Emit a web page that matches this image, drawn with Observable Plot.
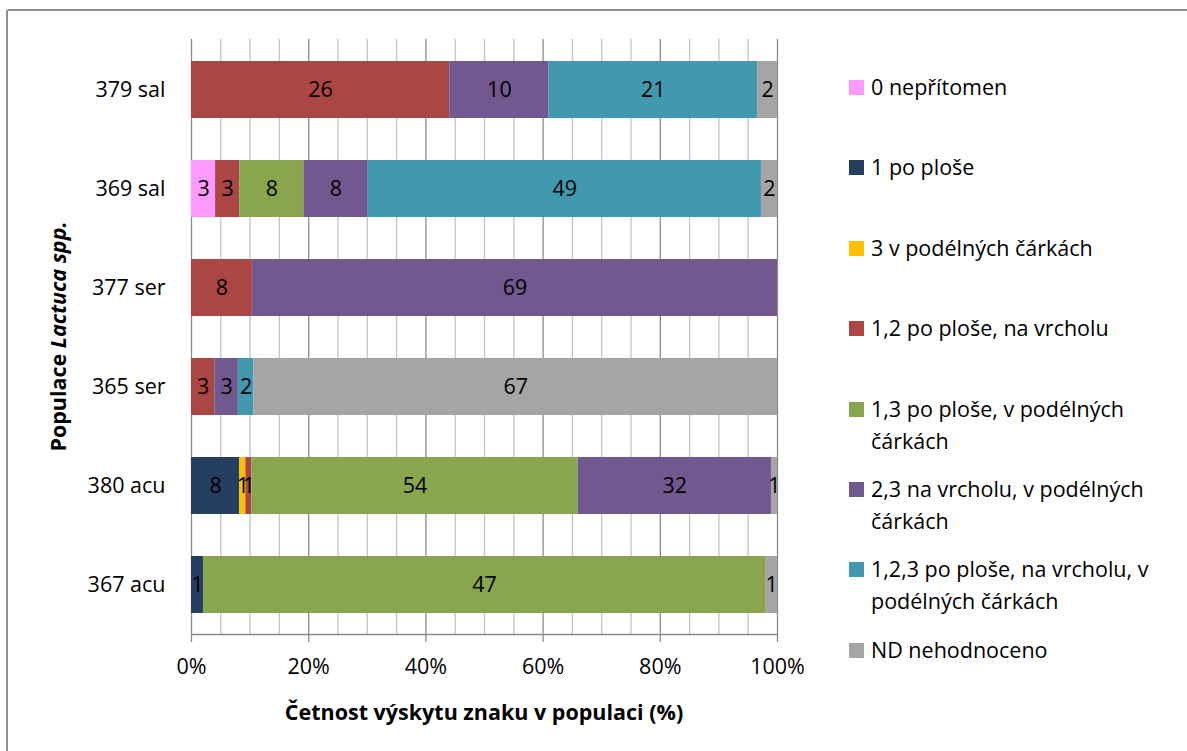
<!DOCTYPE html>
<html>
<head>
<meta charset="utf-8">
<script src="https://cdn.jsdelivr.net/npm/d3@7"></script>
<script src="https://cdn.jsdelivr.net/npm/@observablehq/plot@0.6"></script>
<style>
  html, body { margin: 0; padding: 0; background: #fff; }
  #wrap { position: relative; width: 1187px; height: 751px; overflow: hidden; font-family: "Open Sans", sans-serif; }
  #border { position: absolute; left: 6px; top: 9px; width: 1250px; height: 800px; border: 2px solid #8f8f8f; border-radius: 3px; }
  #chart { position: absolute; left: 0; top: 0; }
  #legend { position: absolute; left: 0; top: 0; }
  .lg { position: absolute; left: 849px; display: flex; align-items: flex-start; font-size: 21.5px; line-height: 32px; color: #000; white-space: pre; }
  .sw { width: 15px; height: 15px; margin-top: 9px; margin-right: 7px; flex: none; }
</style>
</head>
<body>
<div id="wrap">
  <div id="border"></div>
  <div id="chart"></div>
  <div id="legend"></div>
</div>
<script>
// ---- data ----
const populations = ["379 sal", "369 sal", "377 ser", "365 ser", "380 acu", "367 acu"];
const seriesNames = [
  "0 nepřítomen",
  "1 po ploše",
  "3 v podélných čárkách",
  "1,2 po ploše, na vrcholu",
  "1,3 po ploše, v podélných čárkách",
  "2,3 na vrcholu, v podélných čárkách",
  "1,2,3 po ploše, na vrcholu, v podélných čárkách",
  "ND nehodnoceno"
];
const legendLabels = [
  "0 nepřítomen",
  "1 po ploše",
  "3 v podélných čárkách",
  "1,2 po ploše, na vrcholu",
  "1,3 po ploše, v podélných\nčárkách",
  "2,3 na vrcholu, v podélných\nčárkách",
  "1,2,3 po ploše, na vrcholu, v\npodélných čárkách",
  "ND nehodnoceno"
];
const seriesColors = ["#FF99FF", "#243F60", "#FFC000", "#AA4643", "#89A54E", "#71588F", "#4198AF", "#A5A5A5"];

// values per series, in the order of populations
const v0 = [0, 3, 0, 0, 0, 0];
const v1 = [0, 0, 0, 0, 8, 1];
const v3 = [0, 0, 0, 0, 1, 0];
const v12 = [26, 3, 8, 3, 1, 0];
const v13 = [0, 8, 0, 0, 54, 47];
const v23 = [10, 8, 69, 3, 32, 0];
const v123 = [21, 49, 0, 2, 0, 0];
const vND = [2, 2, 0, 67, 1, 1];
const seriesValues = [v0, v1, v3, v12, v13, v23, v123, vND];

const xTicks = [0, 0.2, 0.4, 0.6, 0.8, 1];
const xTickLabels = ["0%", "20%", "40%", "60%", "80%", "100%"];
const minorGrid = [0.05, 0.1, 0.15, 0.25, 0.3, 0.35, 0.45, 0.5, 0.55, 0.65, 0.7, 0.75, 0.85, 0.9, 0.95];

const xTitle = "Četnost výskytu znaku v populaci (%)";
const yTitleA = "Populace ";
const yTitleB = "Lactuca spp.";

// ---- long table ----
const rows = [];
seriesNames.forEach((s, si) => {
  populations.forEach((p, pi) => {
    const v = seriesValues[si][pi];
    if (v > 0) rows.push({population: p, series: s, value: v});
  });
});

const W = 1187, H = 751;
const FS = 21.5;
const stackOpts = {x: "value", y: "population", z: "series", order: seriesNames, offset: "normalize"};

const plot = Plot.plot({
  width: W,
  height: H,
  marginLeft: 191,
  marginRight: 410,
  marginTop: 39,
  marginBottom: 117,
  style: {fontFamily: "'Open Sans', sans-serif", fontSize: FS + "px", color: "#000", background: "transparent"},
  x: {domain: [0, 1], axis: null},
  y: {domain: populations, paddingInner: 0.425, paddingOuter: 0.2125, axis: null},
  color: {domain: seriesNames, range: seriesColors},
  marks: [
    Plot.ruleX(minorGrid, {stroke: "#c4c4c4", strokeWidth: 1.3, strokeOpacity: 1}),
    Plot.ruleX(xTicks, {stroke: "#8c8c8c", strokeWidth: 1.3, strokeOpacity: 1}),
    Plot.frame({anchor: "bottom", stroke: "#8c8c8c", strokeWidth: 1.3}),
    Plot.barX(rows, Plot.stackX({...stackOpts, fill: "series", inset: 0})),
    Plot.textX(rows, Plot.stackX({...stackOpts, text: d => String(d.value), fill: "#000", fontSize: FS})),
    Plot.axisX(xTicks, {anchor: "bottom", tickSize: 8, tickPadding: 16, stroke: "#8c8c8c", strokeWidth: 1.3,
      tickFormat: (d, i) => xTickLabels[i], fontSize: FS, fill: "#000", label: null}),
    Plot.axisY({anchor: "left", tickSize: 0, tickPadding: 26, fontSize: FS, fill: "#000", label: null})
  ]
});

document.getElementById("chart").appendChild(plot);

// titles positioned from scales
const xs = plot.scale("x"), ys = plot.scale("y");
const svg = d3.select(plot);
const xMid = (xs.apply(0) + xs.apply(1)) / 2;
const yMid = (39 + (H - 117)) / 2;

svg.append("text")
  .attr("x", xMid).attr("y", 712)
  .attr("text-anchor", "middle").attr("dy", "0.35em")
  .style("font-weight", "bold").style("font-size", FS + "px").style("fill", "#000")
  .text(xTitle);

const yt = svg.append("text")
  .attr("transform", `translate(58,${yMid}) rotate(-90)`)
  .attr("text-anchor", "middle").attr("dy", "0.35em")
  .style("font-weight", "bold").style("font-size", FS + "px").style("fill", "#000");
yt.append("tspan").text(yTitleA);
yt.append("tspan").style("font-style", "italic").text(yTitleB);

// legend (HTML, beside the SVG)
const lg = d3.select("#legend");
const firstY = 87, stepY = 80.4;
legendLabels.forEach((lab, i) => {
  const row = lg.append("div").attr("class", "lg").style("top", (firstY + i * stepY - 16) + "px");
  row.append("div").attr("class", "sw").style("background", seriesColors[i]);
  row.append("div").text(lab);
});
</script>
</body>
</html>
